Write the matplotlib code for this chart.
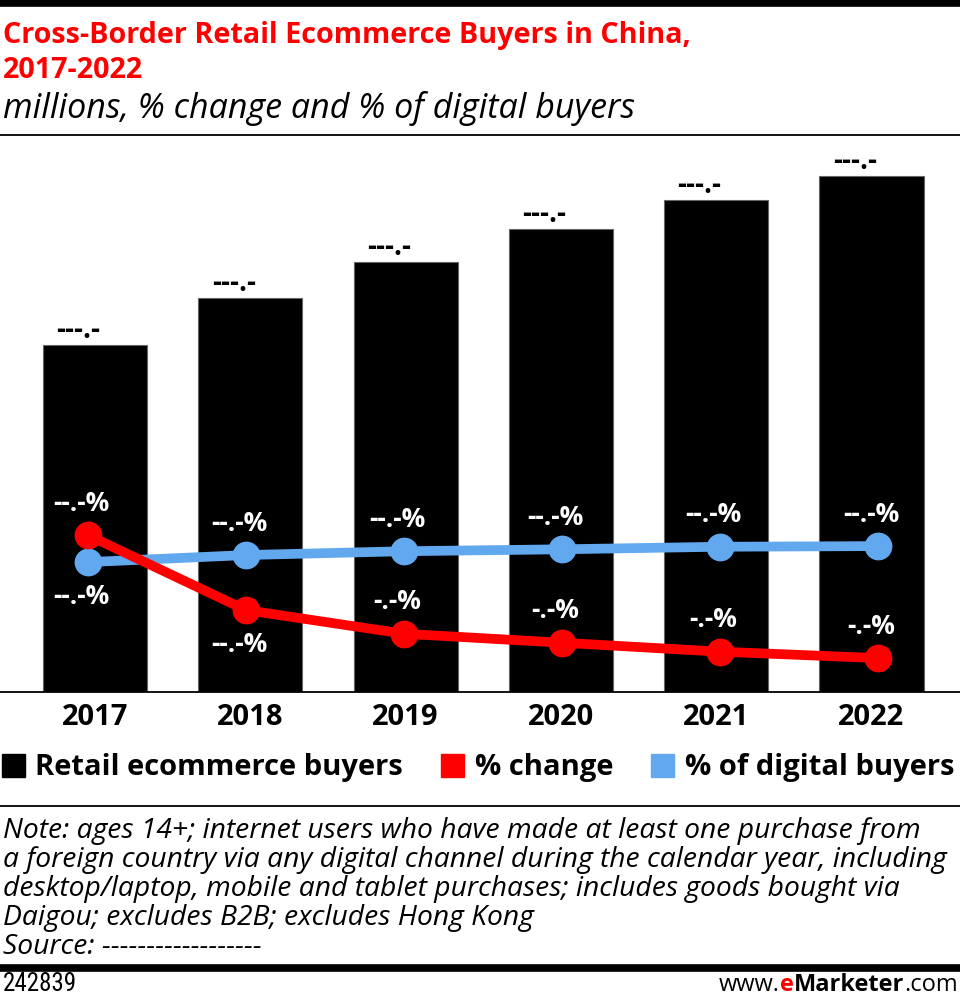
import matplotlib
matplotlib.use("Agg")
import matplotlib.pyplot as plt
from matplotlib.patches import Patch

# Datos del grafico (millones, % cambio, % de compradores digitales)
years = ["2017", "2018", "2019", "2020", "2021", "2022"]
buyers = [141.6, 160.8, 175.5, 189.0, 200.8, 210.6]
pct_change = [24.5, 12.8, 9.1, 7.7, 6.3, 5.3]
pct_digital = [20.3, 21.4, 22.0, 22.3, 22.7, 22.8]
buyer_labels = ["---.-", "---.-", "---.-", "---.-", "---.-", "---.-"]
change_labels = ["--.-%", "--.-%", "-.-%", "-.-%", "-.-%", "-.-%"]
digital_labels = ["--.-%", "--.-%", "--.-%", "--.-%", "--.-%", "--.-%"]

note_lines = [
    "Note: ages 14+; internet users who have made at least one purchase from",
    "a foreign country via any digital channel during the calendar year, including",
    "desktop/laptop, mobile and tablet purchases; includes goods bought via",
    "Daigou; excludes B2B; excludes Hong Kong",
    "Source: ------------------",
]

RED = "#ff0000"
BLUE = "#62a8ef"
COND = "Roboto Condensed"
SANS = "Open Sans"

H = 997.0  # alto en pixeles, para pasar de pixeles a fraccion de figura


def fy(py):
    return 1 - py / H


fig = plt.figure(figsize=(9.6, 9.97), dpi=100)
fig.patch.set_facecolor("white")

# Ejes principales: barras
ax = fig.add_axes([0, fy(692), 1, (692 - 150) / H])
x = list(range(len(years)))
ax.bar(x, buyers, width=0.67, color="black", edgecolor="#666666", linewidth=0.8, zorder=2)
ax.set_xlim(-0.612, 5.570)
ax.set_ylim(0, 221.2)
for xi, v, lab in zip(x, buyers, buyer_labels):
    ax.annotate(lab, (xi, v), xytext=(-12, 5), textcoords="offset points",
                ha="center", va="baseline", fontsize=20, fontweight="bold",
                family=SANS, color="black")

ax.set_xticks(x)
ax.set_xticklabels(years, fontsize=21, fontweight="bold", family=SANS)
ax.tick_params(axis="x", length=0, pad=8)
ax.set_yticks([])
for s in ["top", "right", "left"]:
    ax.spines[s].set_visible(False)
ax.spines["bottom"].set_linewidth(1.3)
ax.set_facecolor("none")

# Ejes secundarios: lineas de porcentaje
ax2 = fig.add_axes([0, fy(692), 1, (692 - 150) / H], frameon=False)
ax2.set_xlim(-0.557, 5.519)
ax2.set_ylim(0, 84.7)
ax2.set_xticks([])
ax2.set_yticks([])
ax2.plot(x, pct_digital, color=BLUE, lw=7, marker="o", markersize=19, zorder=3)
ax2.plot(x, pct_change, color=RED, lw=7, marker="o", markersize=19, zorder=4)

for i, (v, lab) in enumerate(zip(pct_digital, digital_labels)):
    dy = -25 if i == 0 else 23
    ax2.annotate(lab, (i, v), xytext=(-5, dy), textcoords="offset points",
                 ha="center", va="center", fontsize=19, fontweight="bold",
                 family=SANS, color="white", zorder=5)
for i, (v, lab) in enumerate(zip(pct_change, change_labels)):
    dy = -25 if i == 1 else 23
    ax2.annotate(lab, (i, v), xytext=(-5, dy), textcoords="offset points",
                 ha="center", va="center", fontsize=19, fontweight="bold",
                 family=SANS, color="white", zorder=5)

# Titulo y subtitulo
fig.text(0.003, fy(43), "Cross-Border Retail Ecommerce Buyers in China,", color=RED,
         fontsize=20.7, fontweight="bold", family=SANS, va="baseline", ha="left")
fig.text(0.003, fy(78), "2017-2022", color=RED,
         fontsize=20.7, fontweight="bold", family=SANS, va="baseline", ha="left")
fig.text(0.003, fy(118), "millions, % change and % of digital buyers", color="black",
         fontsize=24.5, style="italic", family=SANS, va="baseline", ha="left")

# Lineas separadoras
fig.add_artist(plt.Line2D([0, 1], [fy(3.5), fy(3.5)], color="black", lw=5.5))
fig.add_artist(plt.Line2D([0, 1], [fy(135.5), fy(135.5)], color="black", lw=1.3))
fig.add_artist(plt.Line2D([0, 1], [fy(806), fy(806)], color="black", lw=1.3))
fig.add_artist(plt.Line2D([0, 1], [fy(968), fy(968)], color="black", lw=5.5))

# Leyenda
handles = [Patch(color="black"), Patch(color=RED), Patch(color=BLUE)]
fig.legend(handles, ["Retail ecommerce buyers", "% change", "% of digital buyers"],
           loc="center left", bbox_to_anchor=(0.002, fy(768)), ncol=3,
           frameon=False, borderpad=0, borderaxespad=0,
           handlelength=0.8, handleheight=0.8,
           handletextpad=0.35, columnspacing=1.3,
           prop={"family": SANS, "weight": "bold", "size": 21})

# Nota y fuente, una linea cada 29 px
for k, line in enumerate(note_lines):
    fig.text(0.003, fy(838 + 29 * k), line, fontsize=20.3, style="italic", family=SANS,
             va="baseline", ha="left")

# Pie de pagina
fig.text(0.003, fy(991), "242839", fontsize=18, family=COND, va="baseline", ha="left")
t1 = fig.text(0.998, fy(991), ".com", fontsize=17, family=SANS, va="baseline", ha="right")
a2 = fig.add_artist(plt.Annotation("Marketer", xy=(0, 0), xycoords=t1, ha="right", va="bottom",
                                   fontsize=17, family=SANS, fontweight="bold"))
a3 = fig.add_artist(plt.Annotation("e", xy=(0, 0), xycoords=a2, ha="right", va="bottom",
                                   fontsize=17, family=SANS, fontweight="bold", color=RED))
fig.add_artist(plt.Annotation("www.", xy=(0, 0), xycoords=a3, ha="right", va="bottom",
                              fontsize=17, family=SANS))

fig.savefig("out.png", dpi=100, facecolor="white")
